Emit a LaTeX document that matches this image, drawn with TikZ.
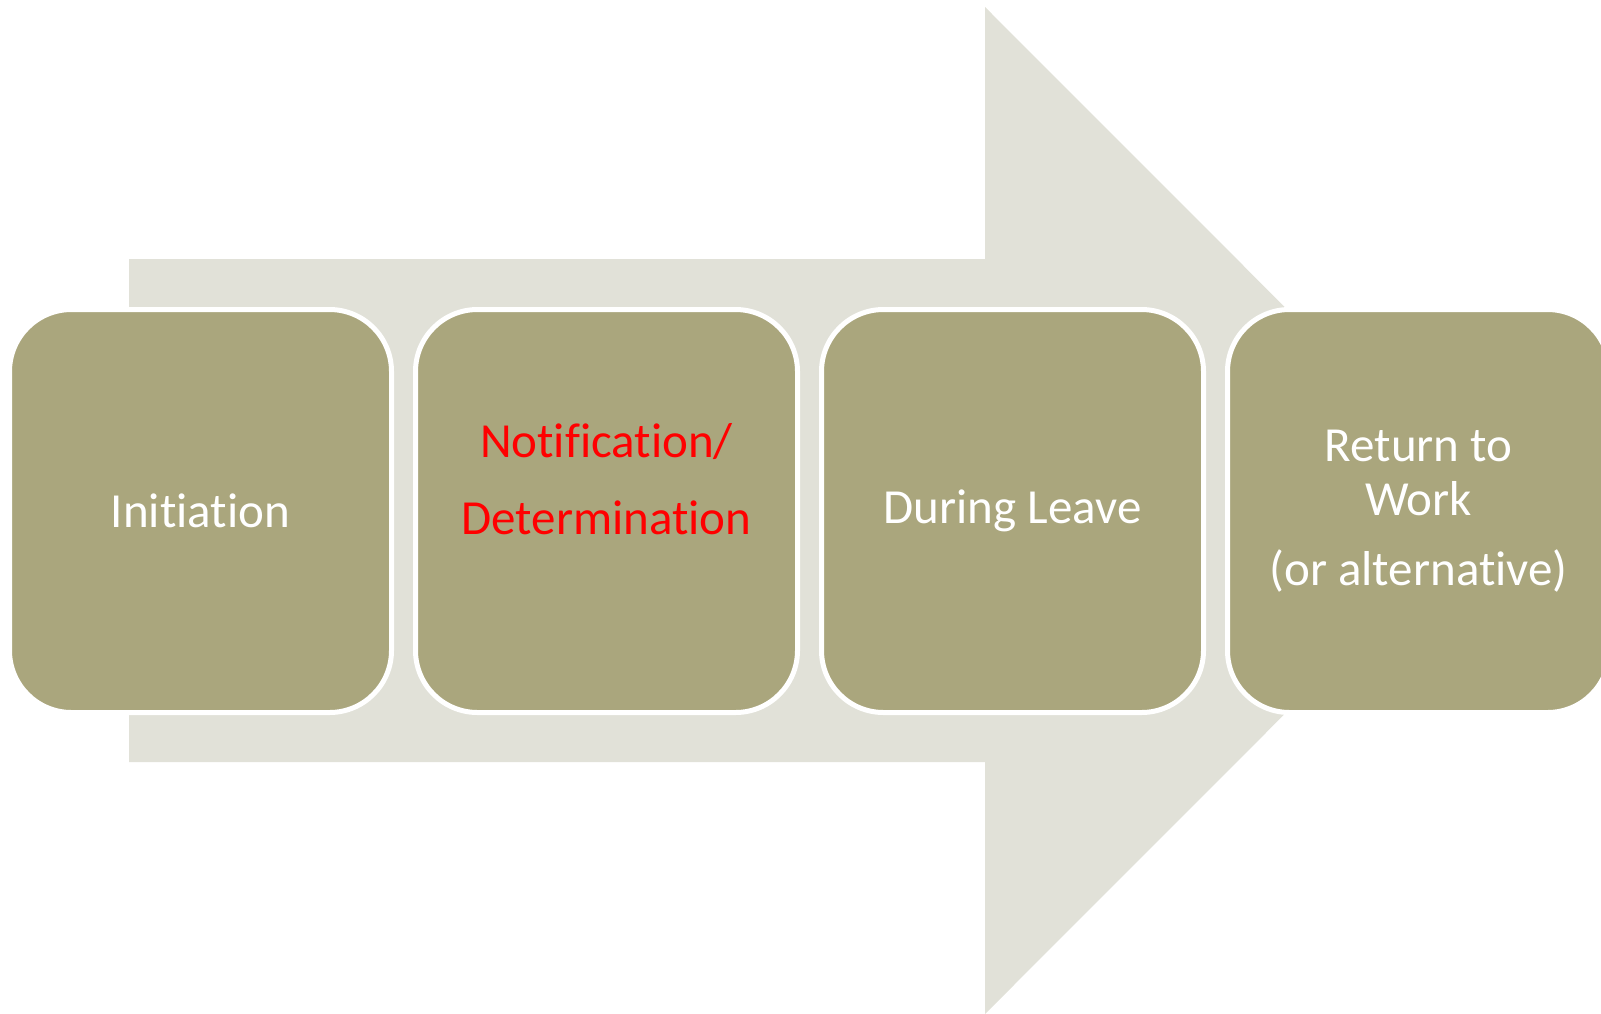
\documentclass[tikz,border=0pt]{standalone}
\usepackage{fontspec}
\setmainfont{Carlito}[Ligatures=NoCommon]
\usetikzlibrary{positioning}
\definecolor{phasefill}{RGB}{170,166,125}
\definecolor{arrowgray}{RGB}{225,225,216}

\begin{document}
\begin{tikzpicture}[
  x=1pt, y=-1pt,
  phase/.style={rectangle, rounded corners=62pt, fill=phasefill, draw=white, line width=5pt,
    minimum width=382pt, minimum height=403pt, outer sep=0pt, inner sep=0pt,
    align=center, text=white, font=\fontsize{49}{60}\selectfont}
]
\useasboundingbox (0,0) rectangle (1601,1013);
\clip (0,0) rectangle (1601,1013);
% big arrow behind the phases
\fill[arrowgray] (129,259) -- (985,259) -- (985,7) -- (1488,510.5) -- (985,1014) -- (985,762) -- (129,762) -- cycle;
\node[phase] (init) at (200.5,511) {Initiation};
\node[phase, right=24pt of init, text=red, text depth=64pt] (notif) {Notification/\\[17pt]Determination};
\node[phase, right=24pt of notif] (leave) {During Leave};
\node[phase, right=24pt of leave] (rtw) {Return to\\[-6pt]Work\\[10pt](or alternative)};
\end{tikzpicture}
\end{document}
